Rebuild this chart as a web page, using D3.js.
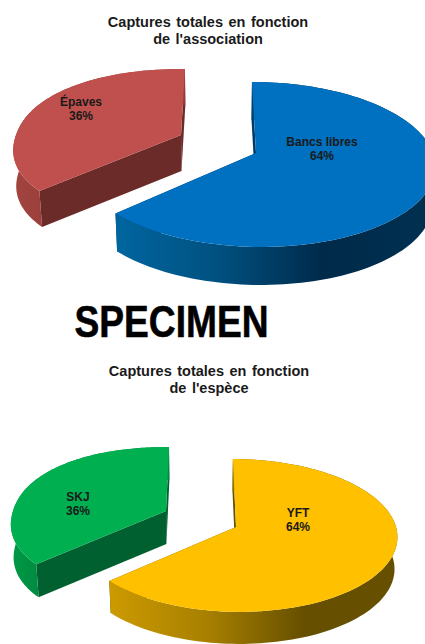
<!DOCTYPE html>
<html>
<head>
<meta charset="utf-8">
<script src="https://cdnjs.cloudflare.com/ajax/libs/d3/7.8.5/d3.min.js"></script>
<style>
    html, body { margin: 0; padding: 0; background: #fff; overflow: hidden; }
    svg { display: block; }
    text { font-family: "Liberation Sans", Arial, sans-serif; fill: #1a1a1a; text-anchor: middle; }
    .title { font-size: 14.5px; font-weight: bold; word-spacing: 1.5px; }
    .label { font-size: 12px; font-weight: bold; }
    .stamp { font-size: 44px; font-weight: bold; fill: #000; stroke: #000; stroke-width: 0.6px; }
</style>
</head>
<body>
<svg id="chart" width="425" height="644"></svg>
<script>
//chart data
var assocCategories = ['Bancs libres', 'Épaves'],
    assocValues = [64, 36],
    especeCategories = ['YFT', 'SKJ'],
    especeValues = [64, 36];

var svg = d3.select('#chart');
var defs = svg.append('defs');

//pie layout, starts at 12 o'clock and keeps the data order
var pie = d3.pie().sort(null);

//outline generator
var line = d3.line().x(d => d[0]).y(d => d[1]);

//signed power, makes the ellipse a bit squarer when e < 1
function spow(t, e) {
    return Math.sign(t) * Math.pow(Math.abs(t), e);
}

//disk coords (u right, v away) to screen, with perspective towards a vanishing point
function projector(s) {
    var xScale = d3.scaleLinear().domain([-1, 1]).range([s.ax - s.rx, s.ax + s.rx]);
    var warp = (s.warp || 0) * Math.PI / 180,
        e = s.sq || 1;
    return function(angle, r, lowered) {
        //the 3d view foreshortens angles a little
        var a = angle - warp * Math.sin(2 * angle),
            u = spow(Math.sin(a), e) * r,
            v = spow(Math.cos(a), e) * r,
            w = 1 + v * s.k,
            x = s.vx + (xScale(u) - s.vx) / w,
            y = s.ay - s.h + s.h / w;
        if (lowered) {
            x = x + (s.vx - x) * 0.015;
            y = y + s.depth;
        }
        return [x, y];
    };
}

//sample the arc between two pie angles
function arcPoints(p, a0, a1, lowered) {
    return d3.range(0, 121).map(i => p(a0 + (a1 - a0) * i / 120, 1, lowered));
}

//draw one exploded slice
function drawSlice(slice, s, id) {
    var p = projector(s),
        a0 = slice.startAngle,
        a1 = slice.endAngle;

    //rim gradient
    var grad = defs.append('linearGradient')
        .attr('id', id)
        .attr('gradientUnits', 'userSpaceOnUse')
        .attr('x1', s.gradX[0]).attr('x2', s.gradX[1])
        .attr('y1', 0).attr('y2', 0);
    grad.selectAll('stop').data(s.rim)
        .enter().append('stop')
        .attr('offset', (d, i) => i / (s.rim.length - 1))
        .attr('stop-color', d => d);

    var g = svg.append('g');

    //cut faces
    [a0, a1].forEach(a => {
        g.append('path')
            .attr('d', line([p(a, 0), p(a, 1), p(a, 1, true), p(a, 0, true)]) + 'Z')
            .attr('fill', s.inner);
    });

    //outer rim
    var rim = arcPoints(p, a0, a1, false).concat(arcPoints(p, a0, a1, true).reverse());
    g.append('path')
        .attr('d', line(rim) + 'Z')
        .attr('fill', 'url(#' + id + ')');

    //top face
    var top = [p(a0, 0)].concat(arcPoints(p, a0, a1, false));
    g.append('path')
        .attr('d', line(top) + 'Z')
        .attr('fill', s.color);
}

function drawText(lines, x, y, cls) {
    lines.forEach((t, i) => {
        svg.append('text')
            .attr('class', cls)
            .attr('x', x)
            .attr('y', y + i * (cls == 'title' ? 17 : 14))
            .text(t);
    });
}

//first pie
var assocPie = pie(assocValues);
drawSlice(assocPie[1], {ax: 181, ay: 135, rx: 165, k: 0.13, h: 574, vx: 215, depth: 36, warp: 2, sq: 0.93,
    color: '#c0504d', inner: '#6b2b29', rim: ['#a5453f', '#943d3a'], gradX: [10, 60]}, 'rimEpaves');
drawSlice(assocPie[0], {ax: 256, ay: 153, rx: 177, k: 0.139, h: 582, vx: 223, depth: 38, warp: 3,
    color: '#0070c0', inner: '#003a66', rim: ['#00659f', '#00507f', '#002a4a', '#003050'], gradX: [118, 425]}, 'rimBancs');

//second pie
var especePie = pie(especeValues);
drawSlice(especePie[1], {ax: 166, ay: 511, rx: 153, k: 0.12, h: 597, vx: 194, depth: 33, warp: 2, sq: 0.93,
    color: '#00b050', inner: '#006030', rim: ['#009a45', '#008a40'], gradX: [10, 40]}, 'rimSkj');
drawSlice(especePie[0], {ax: 236, ay: 527, rx: 160, k: 0.111, h: 680, vx: 205, depth: 32, warp: 2,
    color: '#ffc000', inner: '#665000', rim: ['#cc9a00', '#a88000', '#665000', '#665000'], gradX: [110, 400]}, 'rimYft');

//titles
drawText(['Captures totales en fonction', "de l'association"], 208, 27, 'title');
drawText(['Captures totales en fonction', "de l'espèce"], 209, 376, 'title');

//slice labels
function label(categories, values, i, x, y) {
    drawText([categories[i], values[i] + '%'], x, y, 'label');
}
label(assocCategories, assocValues, 0, 322, 146);
label(assocCategories, assocValues, 1, 81, 106);
label(especeCategories, especeValues, 0, 298, 517);
label(especeCategories, especeValues, 1, 78, 501);

//watermark
svg.append('text')
    .attr('class', 'stamp')
    .attr('x', 171.5)
    .attr('y', 337)
    .attr('textLength', 194)
    .attr('lengthAdjust', 'spacingAndGlyphs')
    .text('SPECIMEN');
</script>
</body>
</html>
